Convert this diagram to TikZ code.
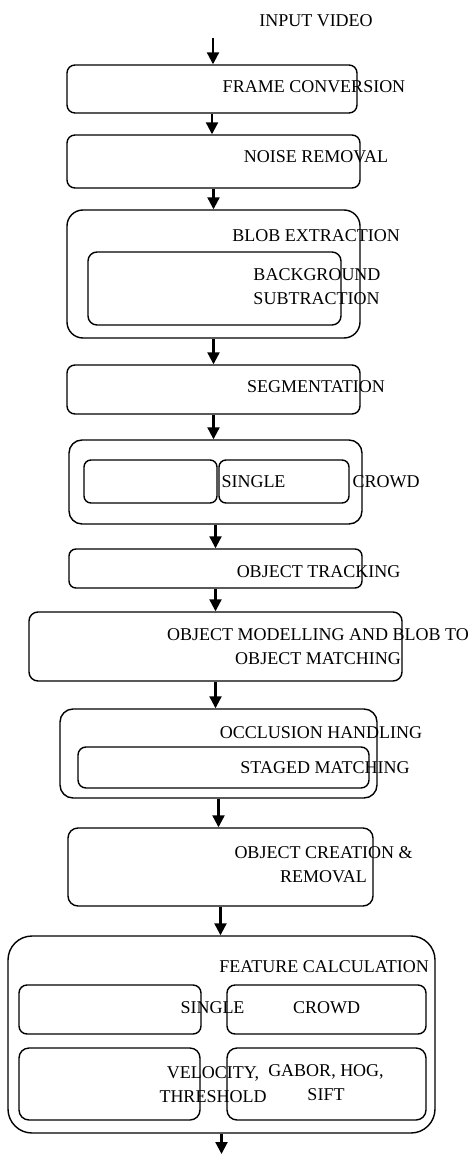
\documentclass[tikz,border=0pt]{standalone}
\usepackage{fontspec}
\setmainfont{Liberation Serif}
\usetikzlibrary{arrows.meta, positioning}

\begin{document}
\begin{tikzpicture}[
    x=1pt, y=-1pt,
    blk/.style={draw, line width=1.4pt, rounded corners=#1, inner sep=0pt},
    blk/.default=8pt,
    lbl/.style={font=\fontsize{18}{24}\selectfont, align=center, inner sep=0pt},
    flow/.style={-{Triangle[length=12pt, width=12pt]}, line width=2.2pt}
]
\useasboundingbox (0,0) rectangle (475,1155);

% Boxes
\node[blk, minimum width=290pt, minimum height=48pt] (frame) at (212,89) {};
\node[blk, minimum width=293pt, minimum height=53pt] (noise) at (213.5,161.5) {};
\node[blk=16pt, minimum width=293pt, minimum height=128pt] (blob) at (213.5,274) {};
\node[blk=9pt, minimum width=253pt, minimum height=73pt] (bgsub) at (214.5,288.5) {};
\node[blk, minimum width=293pt, minimum height=49pt] (seg) at (213.5,389.5) {};
\node[blk=13pt, minimum width=293pt, minimum height=84pt] (split) at (215.5,482) {};
\node[blk=7pt, minimum width=133pt, minimum height=43pt] (single) at (150.5,481.5) {};
\node[blk=7pt, minimum width=130pt, minimum height=43pt] (crowd) at (284,481.5) {};
\node[blk=7pt, minimum width=293pt, minimum height=39pt] (track) at (215.5,568.5) {};
\node[blk=9pt, minimum width=373pt, minimum height=69pt] (model) at (215.5,646.5) {};
\node[blk=13pt, minimum width=317pt, minimum height=89pt] (occl) at (218.5,753.5) {};
\node[blk=8pt, minimum width=291pt, minimum height=41pt] (staged) at (223.5,767.5) {};
\node[blk=10pt, minimum width=305pt, minimum height=78pt] (create) at (220.5,867) {};
\node[blk=24pt, minimum width=427pt, minimum height=197pt] (feat) at (221.5,1034.5) {};
\node[blk, minimum width=182pt, minimum height=49pt] (fsingle) at (110,1009.5) {};
\node[blk, minimum width=199pt, minimum height=49pt] (fcrowd) at (326.5,1009.5) {};
\node[blk=10pt, minimum width=181pt, minimum height=72pt] (fvel) at (109.5,1084) {};
\node[blk=10pt, minimum width=199pt, minimum height=72pt] (fgabor) at (326.5,1084) {};

% Labels
\node[lbl] (tinput) at (316,21) {INPUT VIDEO};
\node[lbl] (tframe) at (314,87) {FRAME CONVERSION};
\node[lbl] (tnoise) at (316,157) {NOISE REMOVAL};
\node[lbl] (tblob) at (316,236) {BLOB EXTRACTION};
\node[lbl, align=left] (tbgsub) at (317,287) {BACKGROUND\\SUBTRACTION};
\node[lbl] (tseg) at (316,387) {SEGMENTATION};
\node[lbl] (tsingle) at (253.5,482) {SINGLE};
\node[lbl] (tcrowd) at (386,482) {CROWD};
\node[lbl] (ttrack) at (318.5,572) {OBJECT TRACKING};
\node[lbl] (tmodel) at (318,647) {OBJECT MODELLING AND BLOB TO\\OBJECT MATCHING};
\node[lbl] (toccl) at (321,733) {OCCLUSION HANDLING};
\node[lbl] (tstaged) at (325,768) {STAGED MATCHING};
\node[lbl] (tcreate) at (323.5,864.5) {OBJECT CREATION \&\\REMOVAL};
\node[lbl] (tfeat) at (324,967) {FEATURE CALCULATION};
\node[lbl] (tfsingle) at (212.5,1008) {SINGLE};
\node[lbl] (tfcrowd) at (326.5,1008) {CROWD};
\node[lbl] (tfvel) at (213,1084.5) {VELOCITY,\\THRESHOLD};
\node[lbl] (tfgabor) at (326,1082.5) {GABOR, HOG,\\SIFT};

% Flow
\coordinate (in) at (213,38);
\coordinate (out) at (223,1154);
\draw[flow] (in) -- (in |- frame.north);
\draw[flow] (frame.south) -- (frame.south |- noise.north);
\draw[flow] (noise.south) -- (noise.south |- blob.north);
\draw[flow] (blob.south) -- (blob.south |- seg.north);
\draw[flow] (seg.south) -- (seg.south |- split.north);
\draw[flow] (split.south) -- (split.south |- track.north);
\draw[flow] (track.south) -- (track.south |- model.north);
\draw[flow] (model.south) -- (model.south |- occl.north);
\draw[flow] (occl.south) -- (occl.south |- create.north);
\draw[flow] (create.south) -- (create.south |- feat.north);
\draw[flow] (feat.south) -- (feat.south |- out);
\end{tikzpicture}
\end{document}
